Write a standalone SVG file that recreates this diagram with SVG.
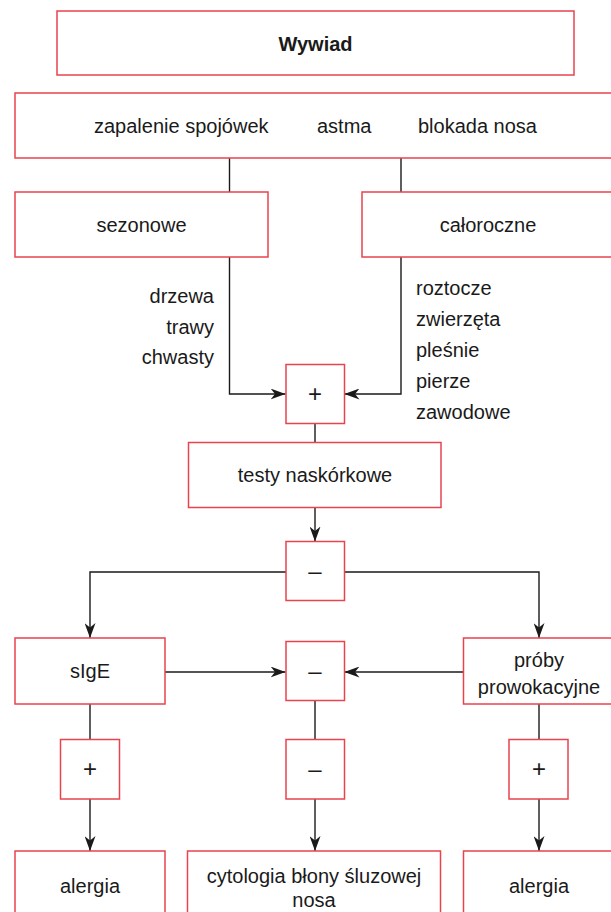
<svg xmlns="http://www.w3.org/2000/svg" width="611" height="912" viewBox="0 0 611 912">
<style>
.box{fill:#fff;stroke:#e9434e;stroke-width:1.5}
.t{font-family:"Liberation Sans",Arial,sans-serif;font-size:20px;fill:#1a1a1a}
.m{text-anchor:middle}
.e{text-anchor:end}
.b{font-weight:bold}
.sym{font-family:"Liberation Sans",Arial,sans-serif;font-size:24px;fill:#1a1a1a;text-anchor:middle}
.c{fill:none;stroke:#1a1a1a;stroke-width:1.4}
</style>
<defs>
<marker id="ah" markerWidth="15" markerHeight="11" refX="15" refY="5.5" orient="auto" markerUnits="userSpaceOnUse">
<path d="M0,0 L15,5.5 L0,11 L4.5,5.5 Z" fill="#1a1a1a"/>
</marker>
</defs>
<rect width="611" height="912" fill="#fff"/>
<g id="connectors">
<path class="c" d="M229.5,158 V192"/>
<path class="c" d="M401,158 V192"/>
<path class="c" d="M229.5,257 V394 H285.5" marker-end="url(#ah)"/>
<path class="c" d="M401,257 V394 H344.5" marker-end="url(#ah)"/>
<path class="c" d="M315,423.5 V442.5"/>
<path class="c" d="M315,507.5 V541.5" marker-end="url(#ah)"/>
<path class="c" d="M286,572 H90 V638" marker-end="url(#ah)"/>
<path class="c" d="M344.5,572 H539 V638" marker-end="url(#ah)"/>
<path class="c" d="M165,672 H285.5" marker-end="url(#ah)"/>
<path class="c" d="M463.5,672 H344.5" marker-end="url(#ah)"/>
<path class="c" d="M90,704 V739.5"/>
<path class="c" d="M315,700.5 V739.5"/>
<path class="c" d="M539,704 V739.5"/>
<path class="c" d="M90,799 V851" marker-end="url(#ah)"/>
<path class="c" d="M315,799 V851" marker-end="url(#ah)"/>
<path class="c" d="M539,799 V851" marker-end="url(#ah)"/>
</g>
<g id="wywiad"><rect class="box" x="57" y="11" width="517" height="64"/><text class="t m b" x="315.5" y="51">Wywiad</text></g>
<g id="objawy"><rect class="box" x="15" y="93" width="610" height="65"/>
<text class="t" x="94" y="133">zapalenie spojówek</text>
<text class="t" x="317" y="133">astma</text>
<text class="t" x="418" y="133">blokada nosa</text></g>
<g id="sezonowe"><rect class="box" x="15" y="192" width="253" height="65"/><text class="t m" x="141.5" y="232">sezonowe</text></g>
<g id="caloroczne"><rect class="box" x="362" y="192" width="260" height="65"/><text class="t m" x="488" y="232">całoroczne</text></g>
<g id="alergeny-sezonowe">
<text class="t e" x="214" y="303">drzewa</text>
<text class="t e" x="214" y="334">trawy</text>
<text class="t e" x="214" y="364">chwasty</text></g>
<g id="alergeny-caloroczne">
<text class="t" x="416" y="295">roztocze</text>
<text class="t" x="416" y="326">zwierzęta</text>
<text class="t" x="416" y="357">pleśnie</text>
<text class="t" x="416" y="388">pierze</text>
<text class="t" x="416" y="419">zawodowe</text></g>
<g id="plus1"><rect class="box" x="286" y="364.5" width="58.5" height="59"/><text class="sym" x="315" y="402">+</text></g>
<g id="testy"><rect class="box" x="188.5" y="442.5" width="252.5" height="65"/><text class="t m" x="315" y="482">testy naskórkowe</text></g>
<g id="minus1"><rect class="box" x="286" y="541.5" width="58.5" height="59"/><text class="sym" x="315" y="579">–</text></g>
<g id="sige"><rect class="box" x="15" y="638" width="150" height="66"/><text class="t m" x="90" y="678">sIgE</text></g>
<g id="minus2"><rect class="box" x="286" y="641.5" width="58.5" height="59"/><text class="sym" x="315" y="679">–</text></g>
<g id="proby"><rect class="box" x="463.5" y="638" width="160" height="66"/><text class="t m" x="539" y="667">próby</text><text class="t m" x="539" y="694">prowokacyjne</text></g>
<g id="plus2"><rect class="box" x="60.5" y="739.5" width="59" height="59.5"/><text class="sym" x="90" y="777">+</text></g>
<g id="minus3"><rect class="box" x="286" y="739.5" width="58.5" height="59.5"/><text class="sym" x="315" y="777">–</text></g>
<g id="plus3"><rect class="box" x="509" y="739.5" width="59" height="59.5"/><text class="sym" x="539" y="777">+</text></g>
<g id="alergia1"><rect class="box" x="15" y="851" width="150" height="70"/><text class="t m" x="90" y="893">alergia</text></g>
<g id="cytologia"><rect class="box" x="187.5" y="851" width="253" height="70"/><text class="t m" x="314" y="883">cytologia błony śluzowej</text><text class="t m" x="314" y="907">nosa</text></g>
<g id="alergia2"><rect class="box" x="463.5" y="851" width="160" height="70"/><text class="t m" x="539" y="893">alergia</text></g>
</svg>
